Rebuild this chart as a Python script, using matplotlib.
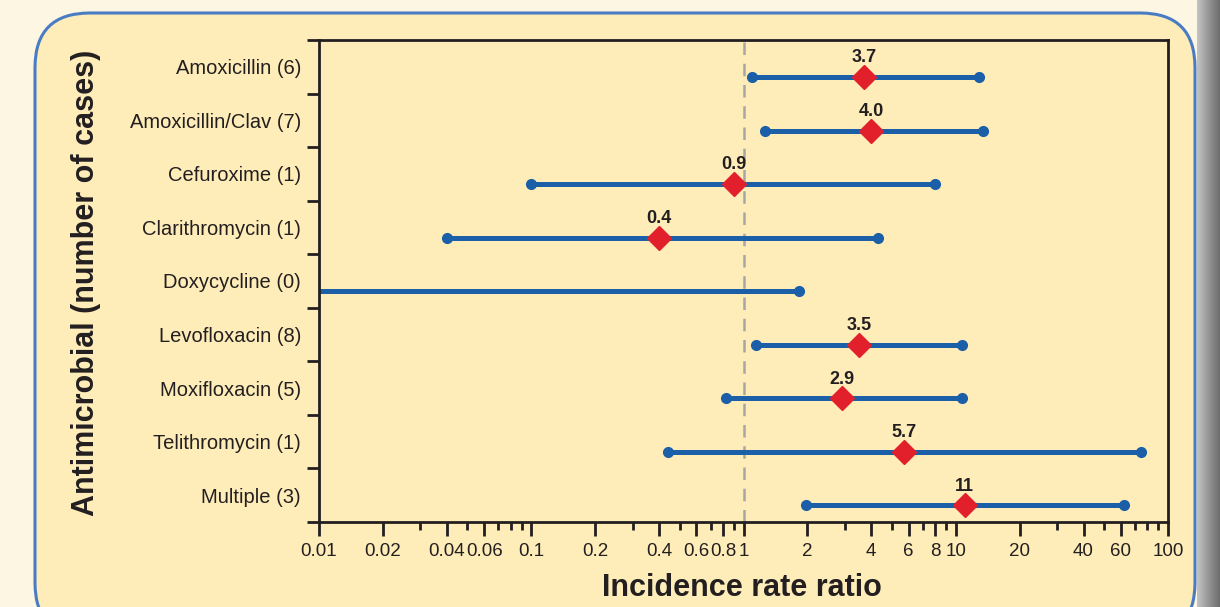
import numpy as np
import matplotlib
matplotlib.use("Agg")
import matplotlib.pyplot as plt
from matplotlib.patches import FancyBboxPatch

drugs = ["Amoxicillin (6)", "Amoxicillin/Clav (7)", "Cefuroxime (1)",
         "Clarithromycin (1)", "Doxycycline (0)", "Levofloxacin (8)",
         "Moxifloxacin (5)", "Telithromycin (1)", "Multiple (3)"]
irr = [3.7, 4.0, 0.9, 0.4, None, 3.5, 2.9, 5.7, 11]
irr_text = ["3.7", "4.0", "0.9", "0.4", "", "3.5", "2.9", "5.7", "11"]
ci_low = [1.10, 1.26, 0.10, 0.04, None, 1.15, 0.83, 0.44, 1.97]
ci_high = [12.9, 13.4, 8.0, 4.3, 1.83, 10.7, 10.7, 75, 62]

major_ticks = [0.01, 0.02, 0.04, 0.06, 0.1, 0.2, 0.4, 0.6, 0.8, 1,
               2, 4, 6, 8, 10, 20, 40, 60, 100]
major_labels = ["0.01", "0.02", "0.04", "0.06", "0.1", "0.2", "0.4", "0.6", "0.8", "1",
                "2", "4", "6", "8", "10", "20", "40", "60", "100"]
minor_ticks = [0.03, 0.05, 0.07, 0.08, 0.09, 0.3, 0.5, 0.7, 0.9,
               3, 5, 7, 9, 30, 50, 70, 80, 90]

xmin, xmax = 0.01, 100
blue = "#1a5fa8"
red = "#e2202c"
ink = "#231f20"
sans = ["Liberation Sans", "DejaVu Sans"]

fig = plt.figure(figsize=(12.2, 6.07), dpi=100)
fig.patch.set_facecolor("#fdf6e3")

# panel behind the plot, with a grey shadow down the right side
shadow = fig.add_axes([1197 / 1220, 0, 23 / 1220, 1], zorder=-3)
shadow.imshow(np.linspace(0, 1, 50)[None, :], aspect="auto", cmap="Greys",
              vmin=-1.2, vmax=2.2, extent=[0, 1, 0, 1])
shadow.axis("off")
box = FancyBboxPatch((35 / 1220, -0.05), 1160 / 1220, 1.0 - 13 / 607 + 0.05,
                     boxstyle="round,pad=0,rounding_size=0.045",
                     transform=fig.transFigure, facecolor="#feedb9",
                     edgecolor="#4a7cc4", linewidth=2.2, mutation_aspect=2.0,
                     zorder=-2)
fig.patches.append(box)

ax = fig.add_axes([319 / 1220, 1 - 522 / 607, 849 / 1220, 482 / 607], zorder=2)
ax.set_facecolor("none")
ax.set_xscale("log")
ax.set_xlim(xmin, xmax)
ax.set_ylim(len(drugs), 0)

ax.axvline(1, color="#a6a6a6", lw=1.8, ls=(0, (5, 3.5)), zorder=1)

for i, name in enumerate(drugs):
    y = i + 0.69
    lo = ci_low[i] if ci_low[i] is not None else xmin
    ax.plot([lo, ci_high[i]], [y, y], color=blue, lw=3.6, solid_capstyle="butt",
            zorder=2, clip_on=False)
    if ci_low[i] is not None:
        ax.plot(ci_low[i], y, "o", color=blue, ms=7, zorder=3)
    ax.plot(ci_high[i], y, "o", color=blue, ms=7, zorder=3)
    if irr[i] is not None:
        ax.plot(irr[i], y, "D", color=red, ms=12, mec=red, zorder=4)
        ax.text(irr[i], i + 0.33, irr_text[i], ha="center", va="center",
                fontsize=13, fontweight="bold", color=ink, family=sans)

ax.set_yticks([i + 0.5 for i in range(len(drugs))])
ax.set_yticklabels(drugs, fontsize=14.5, color=ink, family=sans)
ax.set_yticks(range(len(drugs) + 1), minor=True)
ax.tick_params(axis="y", which="major", length=0, pad=13)
ax.tick_params(axis="y", which="minor", length=9, width=2, color=ink)

ax.set_xticks(major_ticks)
ax.set_xticklabels(major_labels, fontsize=13.5, color=ink, family=sans)
ax.set_xticks(minor_ticks, minor=True)
ax.xaxis.set_minor_formatter(plt.NullFormatter())
ax.tick_params(axis="x", which="major", length=10, width=2, color=ink, pad=5)
ax.tick_params(axis="x", which="minor", length=6, width=2, color=ink)

for side in ["left", "right", "top", "bottom"]:
    ax.spines[side].set_linewidth(2)
    ax.spines[side].set_color(ink)

fig.text(742 / 1220, 1 - 588 / 607, "Incidence rate ratio", ha="center", va="center",
         fontsize=22, fontweight="bold", color=ink, family=sans)
fig.text(86 / 1220, 1 - 283 / 607, "Antimicrobial (number of cases)", ha="center",
         va="center", rotation=90, fontsize=22, fontweight="bold", color=ink,
         family=sans)

fig.savefig("out.png", dpi=100, facecolor=fig.get_facecolor())
